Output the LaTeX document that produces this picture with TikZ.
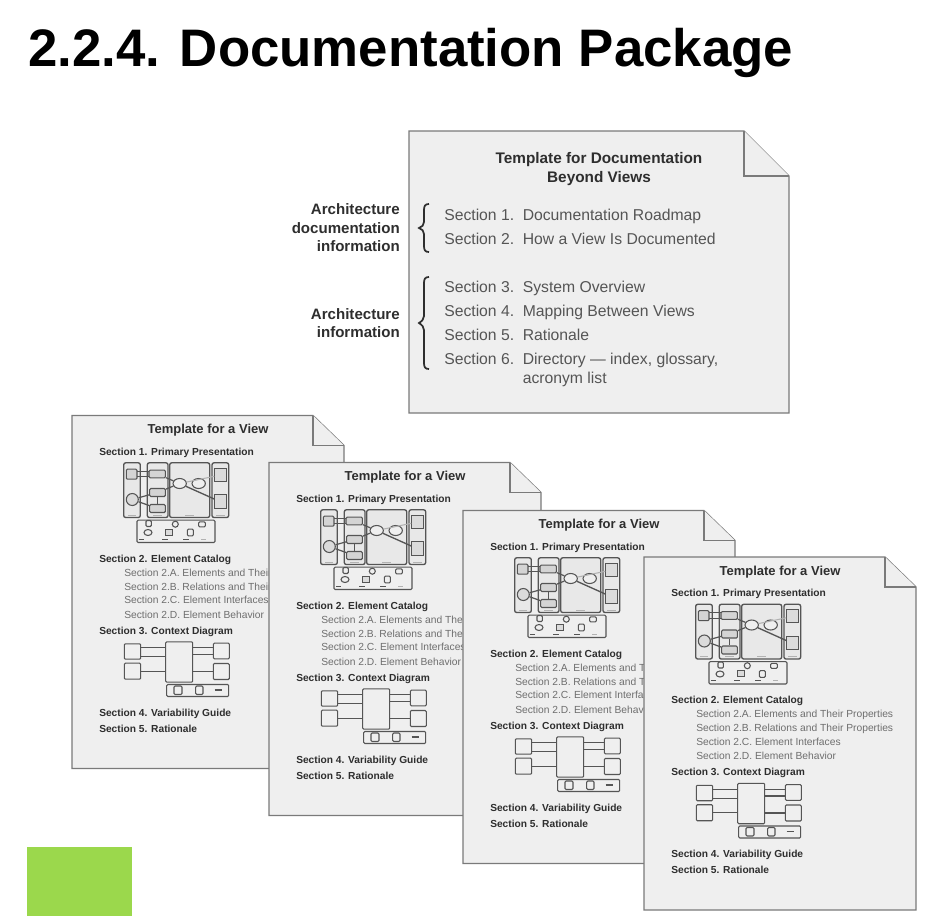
\documentclass[tikz,border=0pt]{standalone}
\usepackage{fontspec}
\setmainfont{Liberation Sans}
\usetikzlibrary{fit,shapes.geometric}
\definecolor{pagefill}{HTML}{EFEFEF}
\definecolor{pageline}{HTML}{7A7A7A}
\definecolor{inkdark}{HTML}{2E2E2E}
\definecolor{inksub}{HTML}{6E6E6E}
\definecolor{inkbody}{HTML}{555555}
\definecolor{miniline}{HTML}{555555}
\definecolor{greenbox}{HTML}{9BD84C}
\tikzset{
  page/.style={draw=pageline,fill=pagefill,line width=1pt,line join=miter},
  fold/.style={draw=pageline,line width=1pt,fill=pagefill},
  txt/.style={inner sep=0pt,text height=7.7pt,text depth=2pt},
  vtitle/.style={txt,text height=8pt,anchor=center,text=inkdark,font=\bfseries\fontsize{9.75}{11}\selectfont},
  vsec/.style={txt,anchor=west,text=inkdark,font=\bfseries\fontsize{7.65}{9}\selectfont},
  vsub/.style={txt,anchor=west,text=inksub,font=\fontsize{7.7}{9}\selectfont},
  dsec/.style={txt,text height=9.2pt,anchor=west,text=inkbody,font=\fontsize{11.8}{13}\selectfont},
  dlab/.style={txt,text height=10.2pt,anchor=east,text=inkdark,font=\bfseries\fontsize{11.3}{13}\selectfont},
  dtitle/.style={txt,text height=10pt,anchor=center,text=inkdark,font=\bfseries\fontsize{11.5}{13}\selectfont},
  mbox/.style={draw=miniline,line width=0.8pt,inner sep=0pt,rounded corners=0.8pt},
  mfill/.style={mbox,fill=black!17},
  mshade/.style={mbox,fill=black!9,line width=1pt,rounded corners=1.5pt},
  mell/.style={ellipse,draw=miniline,line width=0.8pt,inner sep=0pt,fill=pagefill},
  mcyl/.style={cylinder,shape border rotate=90,aspect=0.3,draw=miniline,line width=0.8pt,inner sep=0pt,minimum width=8.6pt,minimum height=10pt,fill=black!14},
  mlink/.style={draw=miniline,line width=0.9pt},
  mtag/.style={draw=miniline,line width=0.7pt},
  mfaint/.style={draw=black!30,line width=0.5pt},
  brc/.style={draw=inkdark,line width=1.3pt},
}
\newcommand{\mrect}[6][mbox]{\node[#1,fit={(#3,#4)(#5,#6)}] (#2) {};}
\newcommand{\viewpage}[3]{%
\begin{scope}[shift={(#2,#3)},name prefix=#1-]
  \coordinate (tl) at (0,0); \coordinate (fa) at (241,0); \coordinate (fb) at (272,30);
  \coordinate (fc) at (241,30); \coordinate (br) at (272,353); \coordinate (bl) at (0,353);
  \path[page] (tl) -- (fa) -- (fb) -- (br) -- (bl) -- cycle;
  \path[fold] (fa) -- (fc) -- (fb);
  \node[vtitle] (title) at (136,14) {Template for a View};
  \node[vsec] (s1) at (27,36) {Section 1. Primary Presentation};
  % primary presentation miniature
  \mrect[mshade]{ta}{51.7}{47.3}{68.3}{102}
  \mrect[mshade]{tb}{75.3}{47.3}{96}{102}
  \mrect[mshade]{tc}{97.7}{47.3}{137.7}{102}
  \mrect[mshade]{td}{140}{47.3}{156.7}{102}
  \mrect[mfill]{a1}{54.3}{53.7}{65}{63.7}
  \node[mell,fill=black!14,minimum width=9pt,minimum height=9pt] (a2) at (60.3,84) {};
  \mrect[mfill]{b1}{77}{54.7}{93.3}{62.3}
  \mrect[mfill]{b2}{77.7}{73}{93.3}{81}
  \mrect[mfill]{b3}{77.7}{89}{93.3}{97}
  \node[mell,minimum width=10pt,minimum height=7.5pt] (c1) at (107.7,68) {};
  \node[mell,minimum width=10pt,minimum height=7.5pt] (c2) at (126.7,68) {};
  \node[mcyl] (d1) at (148.5,59.5) {};
  \node[mcyl] (d2) at (148.5,86.3) {};
  \path[mlink] (65,55.7) -- (77,55.7);
  \path[mlink] (65,61.3) -- (77,61.3);
  \path[mlink] (a2) -- (b2); \path[mlink] (a2) -- (b3);
  \path[mlink] (b2) -- (b3); \path[mlink] (b1) -- (c1); \path[mlink] (b2) -- (c1);
  \path[mlink,line width=1pt] (c1) -- (d2);
  \path[draw=black!30,line width=0.8pt] (c1) -- (d1);
  \path[mfaint] (56,99.5) -- (64,99.5);
  \path[mfaint] (81,99.5) -- (90,99.5);
  \path[mfaint] (113,99.5) -- (122,99.5);
  \path[mfaint] (144,99.5) -- (153,99.5);
  % bottom strip
  \mrect[mbox]{st}{65}{104.7}{143}{127}
  \mrect[mbox]{sa}{74}{105}{79.3}{111}
  \node[mell,minimum width=4.5pt,minimum height=4.5pt] (sb) at (103.3,108.7) {};
  \mrect[mbox]{sc}{126.7}{106.3}{133.3}{111.3}
  \node[mell,minimum width=6pt,minimum height=4.5pt] (sd) at (76,117) {};
  \node[mcyl,minimum width=5.2pt,minimum height=4.6pt] (se) at (96.7,117) {};
  \mrect[mbox]{sf}{115.3}{113.7}{121.3}{120.3}
  \path[mtag] (67,123.5) -- (72,123.5);
  \path[mtag] (90,123.5) -- (96,123.5);
  \path[mtag] (111,123.5) -- (117,123.5);
  \path[mfaint] (129,123.5) -- (134,123.5);
  % catalog
  \node[vsec] (s2) at (27,143) {Section 2. Element Catalog};
  \node[vsub] (s2a) at (52,156.7) {Section 2.A. Elements and Their Properties};
  \node[vsub] (s2b) at (52,170.7) {Section 2.B. Relations and Their Properties};
  \node[vsub] (s2c) at (52,184.3) {Section 2.C. Element Interfaces};
  \node[vsub] (s2d) at (52,198.7) {Section 2.D. Element Behavior};
  \node[vsec] (s3) at (27,214.7) {Section 3. Context Diagram};
  % context diagram
  \mrect[mbox]{l1}{52.3}{228.3}{68.7}{243.7}
  \mrect[mbox]{l2}{52.3}{247.7}{68.7}{263.7}
  \mrect[mbox]{cc}{93.7}{226.3}{120.7}{266.7}
  \mrect[mbox]{r1}{141.3}{227.7}{157.3}{243.3}
  \mrect[mbox]{r2}{141.3}{248}{157.3}{264}
  \path[mlink] (68.7,232.3) -- (93.7,232.3);
  \path[mlink] (68.7,241.3) -- (93.7,241.3);
  \path[mlink] (l2) -- (l2-|cc.west);
  \path[mlink] (120.7,232.3) -- (141.3,232.3);
  \path[mlink] (120.7,239) -- (141.3,239);
  \path[mlink] (r2) -- (r2-|cc.east);
  \mrect[mbox]{kb}{94.7}{269}{156.7}{281}
  \mrect[mbox]{k1}{102}{270.5}{110}{279}
  \mrect[mbox]{k2}{123.7}{270.5}{131}{279}
  \coordinate (k3a) at (142.7,274.5); \coordinate (k3b) at (150,274.5);
  \path[mlink] (k3a) -- (k3b);
  \node[vsec] (s4) at (27,297) {Section 4. Variability Guide};
  \node[vsec] (s5) at (27,313) {Section 5. Rationale};
\end{scope}}
\begin{document}
\begin{tikzpicture}[x=0.75pt,y=-0.75pt]
\useasboundingbox (0,0) rectangle (941,918);
\path[fill=white] (0,0) rectangle (941,918);
\node[inner sep=0pt,anchor=base west,text=black,font=\bfseries\fontsize{39.6}{44}\selectfont] (heading) at (28,66) {2.2.4. Documentation Package};
% Beyond-views page
\coordinate (dtl) at (409,131); \coordinate (dfa) at (744,131); \coordinate (dfb) at (789,176);
\coordinate (dfc) at (744,176); \coordinate (dbr) at (789,413); \coordinate (dbl) at (409,413);
\path[page] (dtl) -- (dfa) -- (dfb) -- (dbr) -- (dbl) -- cycle;
\path[fold] (dfa) -- (dfc) -- (dfb);
\node[dtitle] (dt1) at (599,158.3) {Template for Documentation};
\node[dtitle] (dt2) at (599,176.7) {Beyond Views};
\node[dsec] (d1a) at (444,215.7) {Section 1.};
\node[dsec] (d1b) at (522.5,215.7) {Documentation Roadmap};
\node[dsec] (d2a) at (444,239.7) {Section 2.};
\node[dsec] (d2b) at (522.5,239.7) {How a View Is Documented};
\node[dsec] (d3a) at (444,287.7) {Section 3.};
\node[dsec] (d3b) at (522.5,287.7) {System Overview};
\node[dsec] (d4a) at (444,312) {Section 4.};
\node[dsec] (d4b) at (522.5,312) {Mapping Between Views};
\node[dsec] (d5a) at (444,336) {Section 5.};
\node[dsec] (d5b) at (522.5,336) {Rationale};
\node[dsec] (d6a) at (444,360) {Section 6.};
\node[dsec] (d6b) at (522.5,360) {Directory — index, glossary,};
\node[dsec] (d6c) at (522.5,378.7) {acronym list};
\node[dlab] (la1) at (400,209) {Architecture};
\node[dlab] (la2) at (400,228) {documentation};
\node[dlab] (la3) at (400,246) {information};
\node[dlab] (lb1) at (400,313.7) {Architecture};
\node[dlab] (lb2) at (400,331.7) {information};
\path[brc] (429,204) .. controls (425,204) and (424,206) .. (424,210) -- (424,222) .. controls (424,225) and (422,227) .. (419,228)
  .. controls (422,229) and (424,231) .. (424,234) -- (424,246) .. controls (424,250) and (425,252) .. (429,252);
\path[brc] (429,277) .. controls (425,277) and (424,279) .. (424,283) -- (424,316) .. controls (424,319) and (422,321) .. (419,323)
  .. controls (422,325) and (424,327) .. (424,330) -- (424,363) .. controls (424,367) and (425,369) .. (429,369);
\viewpage{p1}{72}{415.5}
\viewpage{p2}{269}{462.5}
\viewpage{p3}{463}{510.5}
\viewpage{p4}{644}{557}
\node[fill=greenbox,inner sep=0pt,fit={(27,847)(132,916)}] (green) {};
\end{tikzpicture}
\end{document}
